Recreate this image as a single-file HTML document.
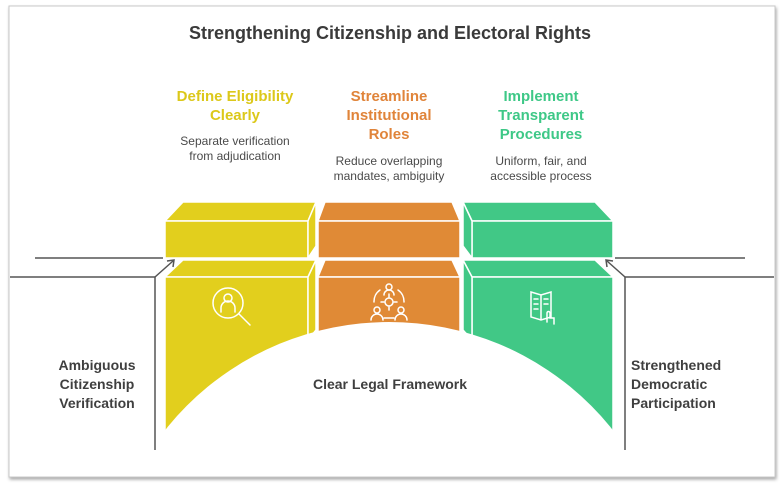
<!DOCTYPE html>
<html><head><meta charset="utf-8"><style>
html,body{margin:0;padding:0;background:#fff;width:784px;height:489px;overflow:hidden}
svg{display:block;font-family:"Liberation Sans",Arial,sans-serif}
</style></head><body>
<svg width="784" height="489" viewBox="0 0 784 489" xmlns="http://www.w3.org/2000/svg">
<defs><filter id="sh" x="-5%" y="-5%" width="110%" height="110%"><feDropShadow dx="1" dy="2" stdDeviation="1.5" flood-color="#000" flood-opacity="0.35"/></filter>
<clipPath id="cp"><rect x="150" y="250" width="480" height="210"/></clipPath></defs>
<rect x="9" y="6" width="766" height="471" fill="#fff" stroke="#c8c8c8" stroke-width="1" filter="url(#sh)"/>
<text x="390" y="39" text-anchor="middle" font-size="18" font-weight="bold" fill="#3a3a3a">Strengthening Citizenship and Electoral Rights</text>

<g font-weight="bold" font-size="15" text-anchor="middle">
<text x="235" y="101" fill="#dcc81a">Define Eligibility</text>
<text x="235" y="120" fill="#dcc81a">Clearly</text>
<text x="389" y="101" fill="#e0843a">Streamline</text>
<text x="389" y="120" fill="#e0843a">Institutional</text>
<text x="389" y="139" fill="#e0843a">Roles</text>
<text x="541" y="101" fill="#3ec887">Implement</text>
<text x="541" y="120" fill="#3ec887">Transparent</text>
<text x="541" y="139" fill="#3ec887">Procedures</text>
</g>
<g font-size="12" text-anchor="middle" fill="#4a4a4a">
<text x="235" y="145">Separate verification</text>
<text x="235" y="160">from adjudication</text>
<text x="389" y="165">Reduce overlapping</text>
<text x="389" y="180">mandates, ambiguity</text>
<text x="541" y="165">Uniform, fair, and</text>
<text x="541" y="180">accessible process</text>
</g>

<g stroke="#fff" stroke-width="1.5" stroke-linejoin="round">
<polygon points="183,202 316,202 308,221 165,221" fill="#e2cf1d"/>
<rect x="165" y="221" width="143" height="37" fill="#e2cf1d"/>
<polygon points="308,221 316,202 316,246 308,258" fill="#e2cf1d"/>
<polygon points="325,202 452,202 460,221 318,221" fill="#e08a36"/>
<rect x="318" y="221" width="142" height="37" fill="#e08a36"/>
<polygon points="463,202 595,202 613,221 472,221" fill="#41c886"/>
<rect x="472" y="221" width="141" height="37" fill="#41c886"/>
<polygon points="463,202 472,221 472,258 463,246" fill="#41c886"/>
<g clip-path="url(#cp)">
<polygon points="183,260 316,260 308,277 165,277" fill="#e2cf1d"/>
<rect x="165" y="277" width="143" height="180" fill="#e2cf1d"/>
<polygon points="308,277 316,260 316,330 308,340" fill="#e2cf1d"/>
<polygon points="325,260 452,260 460,277 318,277" fill="#e08a36"/>
<rect x="318" y="277" width="142" height="180" fill="#e08a36"/>
<polygon points="463,260 595,260 613,277 472,277" fill="#41c886"/>
<rect x="472" y="277" width="141" height="180" fill="#41c886"/>
<polygon points="463,260 472,277 472,340 463,330" fill="#41c886"/>
<circle cx="389" cy="608" r="286" fill="#fff" stroke="none"/>
</g>
</g>

<g fill="none" stroke="#fff" stroke-width="1.5" stroke-linecap="round">
<circle cx="228" cy="303" r="15"/><line x1="239" y1="314" x2="250" y2="325"/>
<circle cx="228" cy="298" r="4"/><path d="M221 312 v-4 a7 7 0 0 1 14 0 v4"/>
<circle cx="389" cy="302" r="4"/><path d="M384 302 l-3 0 M394 302 l3 0 M389 297 v-3 M389 307 v3"/>
<circle cx="389" cy="287" r="3"/><path d="M384 295 a5 5 0 0 1 10 0"/>
<circle cx="377" cy="310" r="3"/><path d="M371 320 a6 6 0 0 1 12 0"/>
<circle cx="401" cy="310" r="3"/><path d="M395 320 a6 6 0 0 1 12 0"/>
<path d="M380 290 a14 14 0 0 0 -6 12 M398 290 a14 14 0 0 1 6 12 M384 318 h10"/>
<path d="M531 292 l10 3 l10 -3 v25 l-10 3 l-10 -3 z M541 295 v25"/>
<path d="M534 299 h4 M534 304 h4 M534 309 h4 M544 299 h4 M544 304 h4"/>
<path d="M547 322 v-9 a1.5 1.5 0 0 1 3 0 v5 h4 v6"/>
</g>

<g stroke="#555" stroke-width="1.5" fill="none">
<line x1="35" y1="258" x2="163" y2="258"/>
<polyline points="10,277 155,277 155,450"/>
<line x1="155" y1="277" x2="173" y2="261"/>
<polyline points="167,261 174,260 173,267"/>
<line x1="615" y1="258" x2="745" y2="258"/>
<polyline points="774,277 625,277 625,450"/>
<line x1="625" y1="277" x2="607" y2="261"/>
<polyline points="613,261 606,260 607,267"/>
</g>

<g font-size="14" font-weight="bold" fill="#3f3f3f">
<text x="97" y="370" text-anchor="middle">Ambiguous</text>
<text x="97" y="389" text-anchor="middle">Citizenship</text>
<text x="97" y="408" text-anchor="middle">Verification</text>
<text x="390" y="389" text-anchor="middle">Clear Legal Framework</text>
<text x="631" y="370">Strengthened</text>
<text x="631" y="389">Democratic</text>
<text x="631" y="408">Participation</text>
</g>
</svg>
</body></html>
